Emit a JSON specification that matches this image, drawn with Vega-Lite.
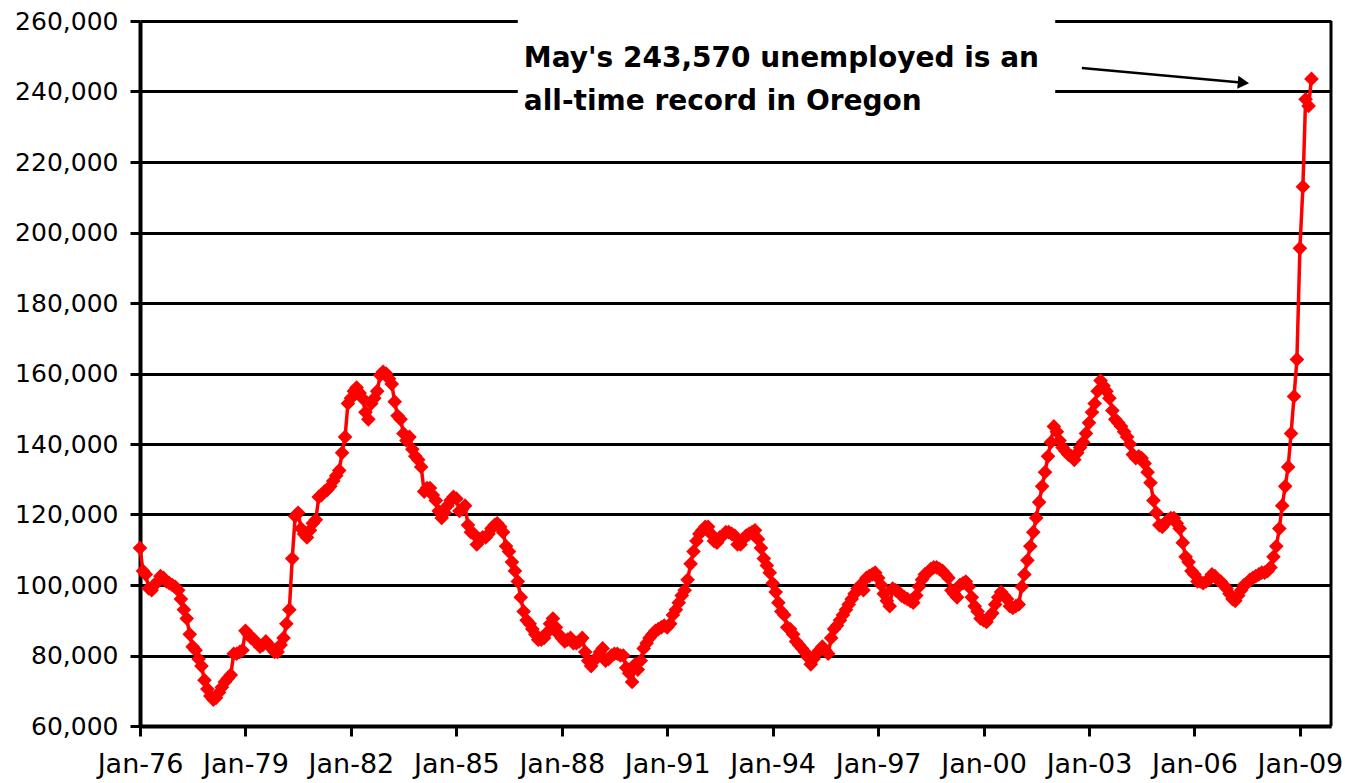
{
  "$schema": "https://vega.github.io/schema/vega-lite/v6.json",
  "width": 1191,
  "height": 705,
  "autosize": {"type": "none"},
  "padding": {"left": 140, "top": 21, "right": 14, "bottom": 57},
  "background": "white",
  "config": {"view": {"stroke": null}},
  "datasets": {
    "series": [
      {"d":"1976-01","v":110500},{"d":"1976-02","v":104000},{"d":"1976-03","v":103000},{"d":"1976-04","v":99000},{"d":"1976-05","v":98500},{"d":"1976-06","v":100000},{"d":"1976-07","v":101000},{"d":"1976-08","v":102500},{"d":"1976-09","v":102000},{"d":"1976-10","v":101000},{"d":"1976-11","v":100500},{"d":"1976-12","v":100000},
      {"d":"1977-01","v":99500},{"d":"1977-02","v":98500},{"d":"1977-03","v":96000},{"d":"1977-04","v":93000},{"d":"1977-05","v":90500},{"d":"1977-06","v":86000},{"d":"1977-07","v":82500},{"d":"1977-08","v":81500},{"d":"1977-09","v":79000},{"d":"1977-10","v":77000},{"d":"1977-11","v":73000},{"d":"1977-12","v":70500},
      {"d":"1978-01","v":68500},{"d":"1978-02","v":67500},{"d":"1978-03","v":68000},{"d":"1978-04","v":69500},{"d":"1978-05","v":71000},{"d":"1978-06","v":72500},{"d":"1978-07","v":73500},{"d":"1978-08","v":74500},{"d":"1978-09","v":80500},{"d":"1978-10","v":80500},{"d":"1978-11","v":81000},{"d":"1978-12","v":81500},
      {"d":"1979-01","v":87000},{"d":"1979-02","v":86000},{"d":"1979-03","v":85000},{"d":"1979-04","v":84500},{"d":"1979-05","v":83500},{"d":"1979-06","v":82500},{"d":"1979-07","v":83000},{"d":"1979-08","v":84000},{"d":"1979-09","v":83000},{"d":"1979-10","v":82000},{"d":"1979-11","v":81000},{"d":"1979-12","v":81000},
      {"d":"1980-01","v":83000},{"d":"1980-02","v":85000},{"d":"1980-03","v":89000},{"d":"1980-04","v":93000},{"d":"1980-05","v":107500},{"d":"1980-06","v":119500},{"d":"1980-07","v":120500},{"d":"1980-08","v":116000},{"d":"1980-09","v":114500},{"d":"1980-10","v":113500},{"d":"1980-11","v":115500},{"d":"1980-12","v":117500},
      {"d":"1981-01","v":118500},{"d":"1981-02","v":125000},{"d":"1981-03","v":125500},{"d":"1981-04","v":126500},{"d":"1981-05","v":127000},{"d":"1981-06","v":128000},{"d":"1981-07","v":129500},{"d":"1981-08","v":131000},{"d":"1981-09","v":132500},{"d":"1981-10","v":137500},{"d":"1981-11","v":142000},{"d":"1981-12","v":151500},
      {"d":"1982-01","v":153000},{"d":"1982-02","v":155000},{"d":"1982-03","v":156000},{"d":"1982-04","v":154500},{"d":"1982-05","v":153000},{"d":"1982-06","v":149000},{"d":"1982-07","v":147000},{"d":"1982-08","v":151500},{"d":"1982-09","v":153000},{"d":"1982-10","v":155000},{"d":"1982-11","v":159500},{"d":"1982-12","v":160500},
      {"d":"1983-01","v":160000},{"d":"1983-02","v":158500},{"d":"1983-03","v":157000},{"d":"1983-04","v":152000},{"d":"1983-05","v":148000},{"d":"1983-06","v":147000},{"d":"1983-07","v":143000},{"d":"1983-08","v":141000},{"d":"1983-09","v":142000},{"d":"1983-10","v":138500},{"d":"1983-11","v":136500},{"d":"1983-12","v":135500},
      {"d":"1984-01","v":133500},{"d":"1984-02","v":126500},{"d":"1984-03","v":127500},{"d":"1984-04","v":127500},{"d":"1984-05","v":125500},{"d":"1984-06","v":124000},{"d":"1984-07","v":121000},{"d":"1984-08","v":119000},{"d":"1984-09","v":120500},{"d":"1984-10","v":122500},{"d":"1984-11","v":124000},{"d":"1984-12","v":125000},
      {"d":"1985-01","v":124500},{"d":"1985-02","v":121000},{"d":"1985-03","v":121500},{"d":"1985-04","v":122500},{"d":"1985-05","v":117000},{"d":"1985-06","v":115000},{"d":"1985-07","v":114500},{"d":"1985-08","v":111500},{"d":"1985-09","v":113000},{"d":"1985-10","v":113500},{"d":"1985-11","v":113500},{"d":"1985-12","v":114500},
      {"d":"1986-01","v":116000},{"d":"1986-02","v":117000},{"d":"1986-03","v":117500},{"d":"1986-04","v":116500},{"d":"1986-05","v":115000},{"d":"1986-06","v":111000},{"d":"1986-07","v":109500},{"d":"1986-08","v":106500},{"d":"1986-09","v":104000},{"d":"1986-10","v":101000},{"d":"1986-11","v":96500},{"d":"1986-12","v":92500},
      {"d":"1987-01","v":90000},{"d":"1987-02","v":89000},{"d":"1987-03","v":87500},{"d":"1987-04","v":86000},{"d":"1987-05","v":84500},{"d":"1987-06","v":84500},{"d":"1987-07","v":85000},{"d":"1987-08","v":86500},{"d":"1987-09","v":89000},{"d":"1987-10","v":90500},{"d":"1987-11","v":88000},{"d":"1987-12","v":86000},
      {"d":"1988-01","v":85000},{"d":"1988-02","v":84000},{"d":"1988-03","v":84500},{"d":"1988-04","v":85000},{"d":"1988-05","v":83500},{"d":"1988-06","v":83500},{"d":"1988-07","v":84000},{"d":"1988-08","v":85000},{"d":"1988-09","v":81000},{"d":"1988-10","v":78500},{"d":"1988-11","v":77000},{"d":"1988-12","v":78500},
      {"d":"1989-01","v":79500},{"d":"1989-02","v":81000},{"d":"1989-03","v":82000},{"d":"1989-04","v":78500},{"d":"1989-05","v":79000},{"d":"1989-06","v":80000},{"d":"1989-07","v":80500},{"d":"1989-08","v":80500},{"d":"1989-09","v":80000},{"d":"1989-10","v":80000},{"d":"1989-11","v":76500},{"d":"1989-12","v":75000},
      {"d":"1990-01","v":72500},{"d":"1990-02","v":77500},{"d":"1990-03","v":76000},{"d":"1990-04","v":78500},{"d":"1990-05","v":82000},{"d":"1990-06","v":83500},{"d":"1990-07","v":85000},{"d":"1990-08","v":86000},{"d":"1990-09","v":87000},{"d":"1990-10","v":87500},{"d":"1990-11","v":88000},{"d":"1990-12","v":88500},
      {"d":"1991-01","v":88000},{"d":"1991-02","v":89000},{"d":"1991-03","v":91500},{"d":"1991-04","v":93000},{"d":"1991-05","v":95000},{"d":"1991-06","v":97000},{"d":"1991-07","v":98500},{"d":"1991-08","v":101500},{"d":"1991-09","v":106000},{"d":"1991-10","v":109500},{"d":"1991-11","v":112500},{"d":"1991-12","v":114500},
      {"d":"1992-01","v":115500},{"d":"1992-02","v":116500},{"d":"1992-03","v":116500},{"d":"1992-04","v":114500},{"d":"1992-05","v":112500},{"d":"1992-06","v":112000},{"d":"1992-07","v":113500},{"d":"1992-08","v":114000},{"d":"1992-09","v":115000},{"d":"1992-10","v":115000},{"d":"1992-11","v":114500},{"d":"1992-12","v":114000},
      {"d":"1993-01","v":111500},{"d":"1993-02","v":111500},{"d":"1993-03","v":113000},{"d":"1993-04","v":114000},{"d":"1993-05","v":114500},{"d":"1993-06","v":115000},{"d":"1993-07","v":115500},{"d":"1993-08","v":113000},{"d":"1993-09","v":110500},{"d":"1993-10","v":107500},{"d":"1993-11","v":105500},{"d":"1993-12","v":103500},
      {"d":"1994-01","v":100500},{"d":"1994-02","v":98000},{"d":"1994-03","v":95000},{"d":"1994-04","v":92500},{"d":"1994-05","v":91500},{"d":"1994-06","v":88000},{"d":"1994-07","v":87500},{"d":"1994-08","v":86000},{"d":"1994-09","v":84000},{"d":"1994-10","v":83000},{"d":"1994-11","v":82000},{"d":"1994-12","v":81000},
      {"d":"1995-01","v":79500},{"d":"1995-02","v":77500},{"d":"1995-03","v":79000},{"d":"1995-04","v":80500},{"d":"1995-05","v":81500},{"d":"1995-06","v":82500},{"d":"1995-07","v":81500},{"d":"1995-08","v":80500},{"d":"1995-09","v":85000},{"d":"1995-10","v":87500},{"d":"1995-11","v":88500},{"d":"1995-12","v":90000},
      {"d":"1996-01","v":91500},{"d":"1996-02","v":93000},{"d":"1996-03","v":94500},{"d":"1996-04","v":96000},{"d":"1996-05","v":97500},{"d":"1996-06","v":99000},{"d":"1996-07","v":100000},{"d":"1996-08","v":98500},{"d":"1996-09","v":102000},{"d":"1996-10","v":102500},{"d":"1996-11","v":103000},{"d":"1996-12","v":103500},
      {"d":"1997-01","v":102000},{"d":"1997-02","v":100000},{"d":"1997-03","v":97500},{"d":"1997-04","v":95500},{"d":"1997-05","v":94000},{"d":"1997-06","v":99000},{"d":"1997-07","v":98500},{"d":"1997-08","v":98000},{"d":"1997-09","v":97000},{"d":"1997-10","v":96500},{"d":"1997-11","v":96000},{"d":"1997-12","v":95500},
      {"d":"1998-01","v":95000},{"d":"1998-02","v":97000},{"d":"1998-03","v":99500},{"d":"1998-04","v":101500},{"d":"1998-05","v":103000},{"d":"1998-06","v":103500},{"d":"1998-07","v":104500},{"d":"1998-08","v":105000},{"d":"1998-09","v":105000},{"d":"1998-10","v":104500},{"d":"1998-11","v":104000},{"d":"1998-12","v":103000},
      {"d":"1999-01","v":102000},{"d":"1999-02","v":98500},{"d":"1999-03","v":97500},{"d":"1999-04","v":96500},{"d":"1999-05","v":100000},{"d":"1999-06","v":100500},{"d":"1999-07","v":101000},{"d":"1999-08","v":99500},{"d":"1999-09","v":96500},{"d":"1999-10","v":94000},{"d":"1999-11","v":92500},{"d":"1999-12","v":90500},
      {"d":"2000-01","v":90000},{"d":"2000-02","v":89500},{"d":"2000-03","v":91000},{"d":"2000-04","v":92000},{"d":"2000-05","v":94500},{"d":"2000-06","v":96500},{"d":"2000-07","v":98000},{"d":"2000-08","v":97000},{"d":"2000-09","v":96000},{"d":"2000-10","v":94000},{"d":"2000-11","v":93500},{"d":"2000-12","v":94000},
      {"d":"2001-01","v":94500},{"d":"2001-02","v":99500},{"d":"2001-03","v":103000},{"d":"2001-04","v":107000},{"d":"2001-05","v":111000},{"d":"2001-06","v":115000},{"d":"2001-07","v":119000},{"d":"2001-08","v":123500},{"d":"2001-09","v":128000},{"d":"2001-10","v":132000},{"d":"2001-11","v":136500},{"d":"2001-12","v":140500},
      {"d":"2002-01","v":145000},{"d":"2002-02","v":143500},{"d":"2002-03","v":141000},{"d":"2002-04","v":139000},{"d":"2002-05","v":138000},{"d":"2002-06","v":137000},{"d":"2002-07","v":136500},{"d":"2002-08","v":135500},{"d":"2002-09","v":137500},{"d":"2002-10","v":139000},{"d":"2002-11","v":140500},{"d":"2002-12","v":143000},
      {"d":"2003-01","v":146000},{"d":"2003-02","v":149000},{"d":"2003-03","v":151500},{"d":"2003-04","v":155000},{"d":"2003-05","v":158000},{"d":"2003-06","v":156500},{"d":"2003-07","v":155000},{"d":"2003-08","v":153000},{"d":"2003-09","v":149500},{"d":"2003-10","v":147000},{"d":"2003-11","v":146000},{"d":"2003-12","v":145000},
      {"d":"2004-01","v":143500},{"d":"2004-02","v":142000},{"d":"2004-03","v":140000},{"d":"2004-04","v":137000},{"d":"2004-05","v":136000},{"d":"2004-06","v":136500},{"d":"2004-07","v":136000},{"d":"2004-08","v":134500},{"d":"2004-09","v":132000},{"d":"2004-10","v":129000},{"d":"2004-11","v":124000},{"d":"2004-12","v":120500},
      {"d":"2005-01","v":117000},{"d":"2005-02","v":116500},{"d":"2005-03","v":117500},{"d":"2005-04","v":118500},{"d":"2005-05","v":119000},{"d":"2005-06","v":119000},{"d":"2005-07","v":117500},{"d":"2005-08","v":116000},{"d":"2005-09","v":112000},{"d":"2005-10","v":108000},{"d":"2005-11","v":106500},{"d":"2005-12","v":104000},
      {"d":"2006-01","v":103000},{"d":"2006-02","v":101000},{"d":"2006-03","v":101000},{"d":"2006-04","v":100500},{"d":"2006-05","v":101000},{"d":"2006-06","v":101500},{"d":"2006-07","v":103000},{"d":"2006-08","v":102500},{"d":"2006-09","v":101500},{"d":"2006-10","v":101000},{"d":"2006-11","v":100000},{"d":"2006-12","v":99000},
      {"d":"2007-01","v":97500},{"d":"2007-02","v":96000},{"d":"2007-03","v":95500},{"d":"2007-04","v":97000},{"d":"2007-05","v":98500},{"d":"2007-06","v":100000},{"d":"2007-07","v":100500},{"d":"2007-08","v":101500},{"d":"2007-09","v":102000},{"d":"2007-10","v":102500},{"d":"2007-11","v":103000},{"d":"2007-12","v":103500},
      {"d":"2008-01","v":103500},{"d":"2008-02","v":104000},{"d":"2008-03","v":105000},{"d":"2008-04","v":108000},{"d":"2008-05","v":111000},{"d":"2008-06","v":116000},{"d":"2008-07","v":122500},{"d":"2008-08","v":128000},{"d":"2008-09","v":133500},{"d":"2008-10","v":143000},{"d":"2008-11","v":153500},{"d":"2008-12","v":164000},
      {"d":"2009-01","v":195500},{"d":"2009-02","v":213000},{"d":"2009-03","v":237800},{"d":"2009-04","v":235900},{"d":"2009-05","v":243570}
    ]
  },
  "layer": [
    {
      "data": {"values": [{"x0": "1986-10-01", "x1": "2002-01-15", "y0": 231000, "y1": 263000}]},
      "mark": {"type": "rect", "color": "white", "opacity": 1},
      "encoding": {
        "x": {"field": "x0", "type": "temporal"},
        "x2": {"field": "x1"},
        "y": {"field": "y0", "type": "quantitative"},
        "y2": {"field": "y1"}
      }
    },
    {
      "data": {"values": [{"xe": "2009-11-20"}]},
      "mark": {"type": "rule", "color": "black", "strokeWidth": 3},
      "encoding": {"x": {"field": "xe", "type": "temporal"}}
    },
    {
      "data": {"name": "series"},
      "mark": {"type": "line", "color": "#ff0000", "strokeWidth": 3.5,
        "point": {"shape": "diamond", "size": 215, "filled": true, "color": "#ff0000", "opacity": 1}},
      "encoding": {
        "x": {
          "field": "d", "type": "temporal",
          "scale": {"type": "utc", "domain": [{"year": 1976, "month": 1, "date": 1, "utc": true}, {"year": 2009, "month": 11, "date": 20, "utc": true}], "nice": false},
          "axis": {
            "title": null,
            "format": "%b-%y",
            "values": [
              {"year": 1976, "month": 1, "date": 1, "utc": true},
              {"year": 1979, "month": 1, "date": 1, "utc": true},
              {"year": 1982, "month": 1, "date": 1, "utc": true},
              {"year": 1985, "month": 1, "date": 1, "utc": true},
              {"year": 1988, "month": 1, "date": 1, "utc": true},
              {"year": 1991, "month": 1, "date": 1, "utc": true},
              {"year": 1994, "month": 1, "date": 1, "utc": true},
              {"year": 1997, "month": 1, "date": 1, "utc": true},
              {"year": 2000, "month": 1, "date": 1, "utc": true},
              {"year": 2003, "month": 1, "date": 1, "utc": true},
              {"year": 2006, "month": 1, "date": 1, "utc": true},
              {"year": 2009, "month": 1, "date": 1, "utc": true}
            ],
            "grid": false,
            "labelFont": "DejaVu Sans",
            "labelFontSize": 27,
            "labelColor": "black",
            "labelFlush": false,
            "labelOverlap": false,
            "labelBound": false,
            "labelPadding": 15,
            "tickSize": 10,
            "tickWidth": 3,
            "tickColor": "black",
            "domainColor": "black",
            "domainWidth": 4
          }
        },
        "y": {
          "field": "v", "type": "quantitative",
          "scale": {"domain": [60000, 260000], "nice": false, "zero": false},
          "axis": {
            "title": null,
            "values": [60000, 80000, 100000, 120000, 140000, 160000, 180000, 200000, 220000, 240000, 260000],
            "format": ",d",
            "grid": true,
            "gridColor": "black",
            "gridWidth": 3,
            "gridOpacity": 1,
            "labelFont": "DejaVu Sans",
            "labelFontSize": 25,
            "labelColor": "black",
            "labelPadding": 12,
            "labelFlush": false,
            "tickSize": 10,
            "tickWidth": 3,
            "tickColor": "black",
            "domainColor": "black",
            "domainWidth": 4
          }
        }
      }
    },
    {
      "data": {"values": [{"x0": "2002-10-19", "x1": "2007-05-25", "y0": 246700, "y1": 242500}]},
      "mark": {"type": "rule", "color": "black", "strokeWidth": 2.5},
      "encoding": {
        "x": {"field": "x0", "type": "temporal"},
        "x2": {"field": "x1"},
        "y": {"field": "y0", "type": "quantitative"},
        "y2": {"field": "y1"}
      }
    },
    {
      "data": {"values": [{"x": "2007-05-25", "y": 242500}]},
      "mark": {"type": "point", "shape": "triangle-right", "size": 169, "filled": true, "color": "black", "opacity": 1, "angle": 5},
      "encoding": {
        "x": {"field": "x", "type": "temporal"},
        "y": {"field": "y", "type": "quantitative"}
      }
    },
    {
      "data": {"values": [
        {"x": "1986-12-03", "y": 246950, "t": "May's 243,570 unemployed is an"},
        {"x": "1986-12-03", "y": 234750, "t": "all-time record in Oregon"}
      ]},
      "mark": {"type": "text", "align": "left", "baseline": "alphabetic", "font": "DejaVu Sans", "fontWeight": "bold", "fontSize": 28, "color": "black"},
      "encoding": {
        "x": {"field": "x", "type": "temporal"},
        "y": {"field": "y", "type": "quantitative"},
        "text": {"field": "t"}
      }
    }
  ]
}
